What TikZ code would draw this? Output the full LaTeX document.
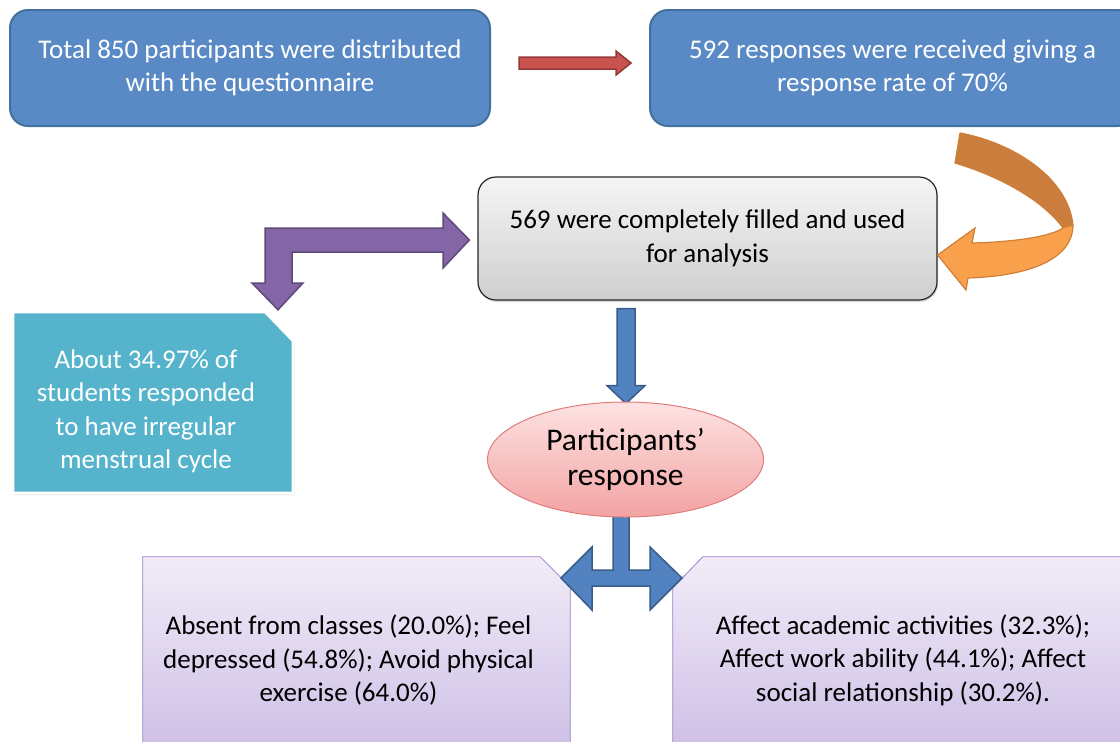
\documentclass[tikz,border=0pt]{standalone}
\usepackage{fontspec}
\setmainfont{Carlito}
\usepackage{xcolor}
\usetikzlibrary{shapes.geometric,shadows,calc,positioning}

\definecolor{boxblue}{HTML}{5A8AC6}
\definecolor{boxblueline}{HTML}{41719C}
\definecolor{tealbox}{HTML}{55B3CB}
\definecolor{redfill}{HTML}{C9534F}
\definecolor{redline}{HTML}{93393A}
\definecolor{purplefill}{HTML}{8466A6}
\definecolor{purpleline}{HTML}{5E4A7A}
\definecolor{bluefill}{HTML}{5283C0}
\definecolor{blueline}{HTML}{385D8A}
\definecolor{orangedark}{HTML}{CB7D3D}
\definecolor{orangelight}{HTML}{F9A04D}
\definecolor{orangeline}{HTML}{D07F36}
\definecolor{pinktop}{HTML}{FDE2E2}
\definecolor{pinkbottom}{HTML}{F3A3A3}
\definecolor{pinkline}{HTML}{E07C7C}
\definecolor{lavtop}{HTML}{F1ECF8}
\definecolor{lavbottom}{HTML}{CCBDE5}
\definecolor{lavline}{HTML}{9A7CC6}

\tikzset{
  bodytext/.style={font=\fontsize{27}{33.5}\selectfont, align=center},
  bluebox/.style={bodytext, rectangle, rounded corners=18pt, fill=boxblue,
    draw=boxblueline, line width=2pt, text=white},
  greybox/.style={bodytext, rectangle, rounded corners=18pt, top color=gray!8,
    bottom color=gray!38, draw=black!85, line width=1.2pt,
    drop shadow={shadow xshift=1pt, shadow yshift=-2pt, opacity=.3}},
  area/.style={rectangle, inner sep=0pt},
  notebox/.style={fill=tealbox, draw=white, line width=3pt, line join=miter,
    drop shadow={shadow xshift=1.5pt, shadow yshift=-2pt, opacity=.3}},
  effectbox/.style={top color=lavtop, bottom color=lavbottom,
    draw=lavline, line width=0.8pt},
  redarrow/.style={fill=redfill, draw=redline, line width=1.5pt, line join=miter},
  purplearrow/.style={fill=purplefill, draw=purpleline, line width=1.5pt, line join=miter},
  bluearrow/.style={fill=bluefill, draw=blueline, line width=1.5pt, line join=miter},
  orangearrow/.style={draw=orangeline, line width=1.2pt, line join=miter}
}

\begin{document}
\begin{tikzpicture}[x=1pt, y=-1pt]

\useasboundingbox (0,0) rectangle (1120,742);

% Top row
\node[bluebox, minimum width=480pt, minimum height=116pt] (total) at (250,68)
  {Total 850 participants were distributed\\with the questionnaire};
\node[bluebox, minimum width=485pt, minimum height=116pt] (received) at (892.5,68)
  {592 responses were received giving a\\response rate of 70\%};

% Middle box
\node[greybox, minimum width=459pt, minimum height=123pt] (used) at (707.5,238.5)
  {569 were completely filled and used\\for analysis};

% Note on the left (snipped corner)
\node[area, minimum width=280pt, minimum height=181pt] (irregular) at (153,402.5) {};
\path[notebox] (irregular.north west) -- ($(irregular.north east)+(-28,0)$)
  -- ($(irregular.north east)+(0,29)$) -- (irregular.south east)
  -- (irregular.south west) -- cycle;
\node[bodytext, text=white] (irregulartext) at ($(irregular.center)+(-7,9)$)
  {About 34.97\% of\\students responded\\to have irregular\\menstrual cycle};

% Bottom boxes
\node[area, minimum width=427pt, minimum height=203pt] (effectsleft) at (356.5,658.5) {};
\path[effectbox] (effectsleft.north west) -- ($(effectsleft.north east)+(-30,0)$)
  -- ($(effectsleft.north east)+(0,30)$) -- (effectsleft.south east)
  -- (effectsleft.south west) -- cycle;
\node[bodytext] (effectslefttext) at ($(effectsleft.center)+(-8,1.5)$)
  {Absent from classes (20.0\%); Feel\\depressed (54.8\%); Avoid physical\\exercise (64.0\%)};
\node[area, minimum width=462pt, minimum height=203pt] (effectsright) at (904,658.5) {};
\path[effectbox] ($(effectsright.north west)+(30,0)$) -- (effectsright.north east)
  -- (effectsright.south east) -- (effectsright.south west)
  -- ($(effectsright.north west)+(0,31)$) -- cycle;
\node[bodytext] (effectsrighttext) at ($(effectsright.center)+(-1,1.5)$)
  {Affect academic activities (32.3\%);\\Affect work ability (44.1\%); Affect\\social relationship (30.2\%).};

% Red arrow: total -> received
\coordinate (redtail) at ($(total.east)+(28,-5)$);
\coordinate (redtip) at ($(received.west)+(-18,-5)$);
\draw[redarrow] ($(redtail)+(0,-6)$) -- ($(redtip)+(-15,-6)$) -- ($(redtip)+(-15,-12)$)
  -- (redtip) -- ($(redtip)+(-15,12)$) -- ($(redtip)+(-15,6)$) -- ($(redtail)+(0,6)$) -- cycle;

% Orange curved arrow: received -> used
\coordinate (orangetip) at ($(used.east)+(0,16.5)$);
\fill[orangedark] (960,133) .. controls (1014,143) and (1068,178) .. (1073,225)
  -- (1063,228) .. controls (1045,203) and (1005,178) .. (955,163) -- cycle;
\draw[orangearrow] (960,133) .. controls (1014,143) and (1068,178) .. (1073,225)
  (1063,228) .. controls (1045,203) and (1005,178) .. (955,163) -- (960,133);
\draw[orangearrow, fill=orangelight] (1063,228) -- (1073,225)
  .. controls (1073,258) and (1032,276) .. (968,278) -- (966,290) -- (orangetip)
  -- (975,228) -- (972,243) .. controls (1012,242) and (1050,237) .. (1063,228) -- cycle;

% Purple bent arrow: used -> irregular
\coordinate (purpletipA) at ($(used.west)+(-8,1.5)$);
\coordinate (purpletipB) at ($(irregular.north)+(125,-2)$);
\draw[purplearrow] (265,228) -- (443,228) -- (443,213) -- (purpletipA) -- (443,268)
  -- (443,252) -- (292,252) -- (292,283) -- (303,283) -- (purpletipB) -- (252,283)
  -- (265,283) -- cycle;

% Blue arrow: used -> response
\coordinate (bluetip) at ($(used.south)+(-81.5,103)$);
\draw[bluearrow] ($(bluetip)+(-9,-95)$) -- ($(bluetip)+(9,-95)$) -- ($(bluetip)+(9,-18)$)
  -- ($(bluetip)+(19,-18)$) -- (bluetip) -- ($(bluetip)+(-19,-18)$)
  -- ($(bluetip)+(-9,-18)$) -- cycle;

% Split arrow: response -> both bottom boxes
\coordinate (splitL) at (561,578);
\coordinate (splitR) at (682,578);
\draw[bluearrow] (613,505) -- (629,505) -- (629,570) -- (650,570) -- (650,547)
  -- (splitR) -- (650,610) -- (650,586) -- (592,586) -- (592,610) -- (splitL)
  -- (592,547) -- (592,570) -- (613,570) -- cycle;

% Ellipse
\node[ellipse, minimum width=276pt, minimum height=115pt, top color=pinktop,
  bottom color=pinkbottom, draw=pinkline, line width=1pt, align=center,
  inner sep=0pt, font=\fontsize{31.5}{35}\selectfont] (response) at (625.5,459.5)
  {Participants’\\response};

\end{tikzpicture}
\end{document}
